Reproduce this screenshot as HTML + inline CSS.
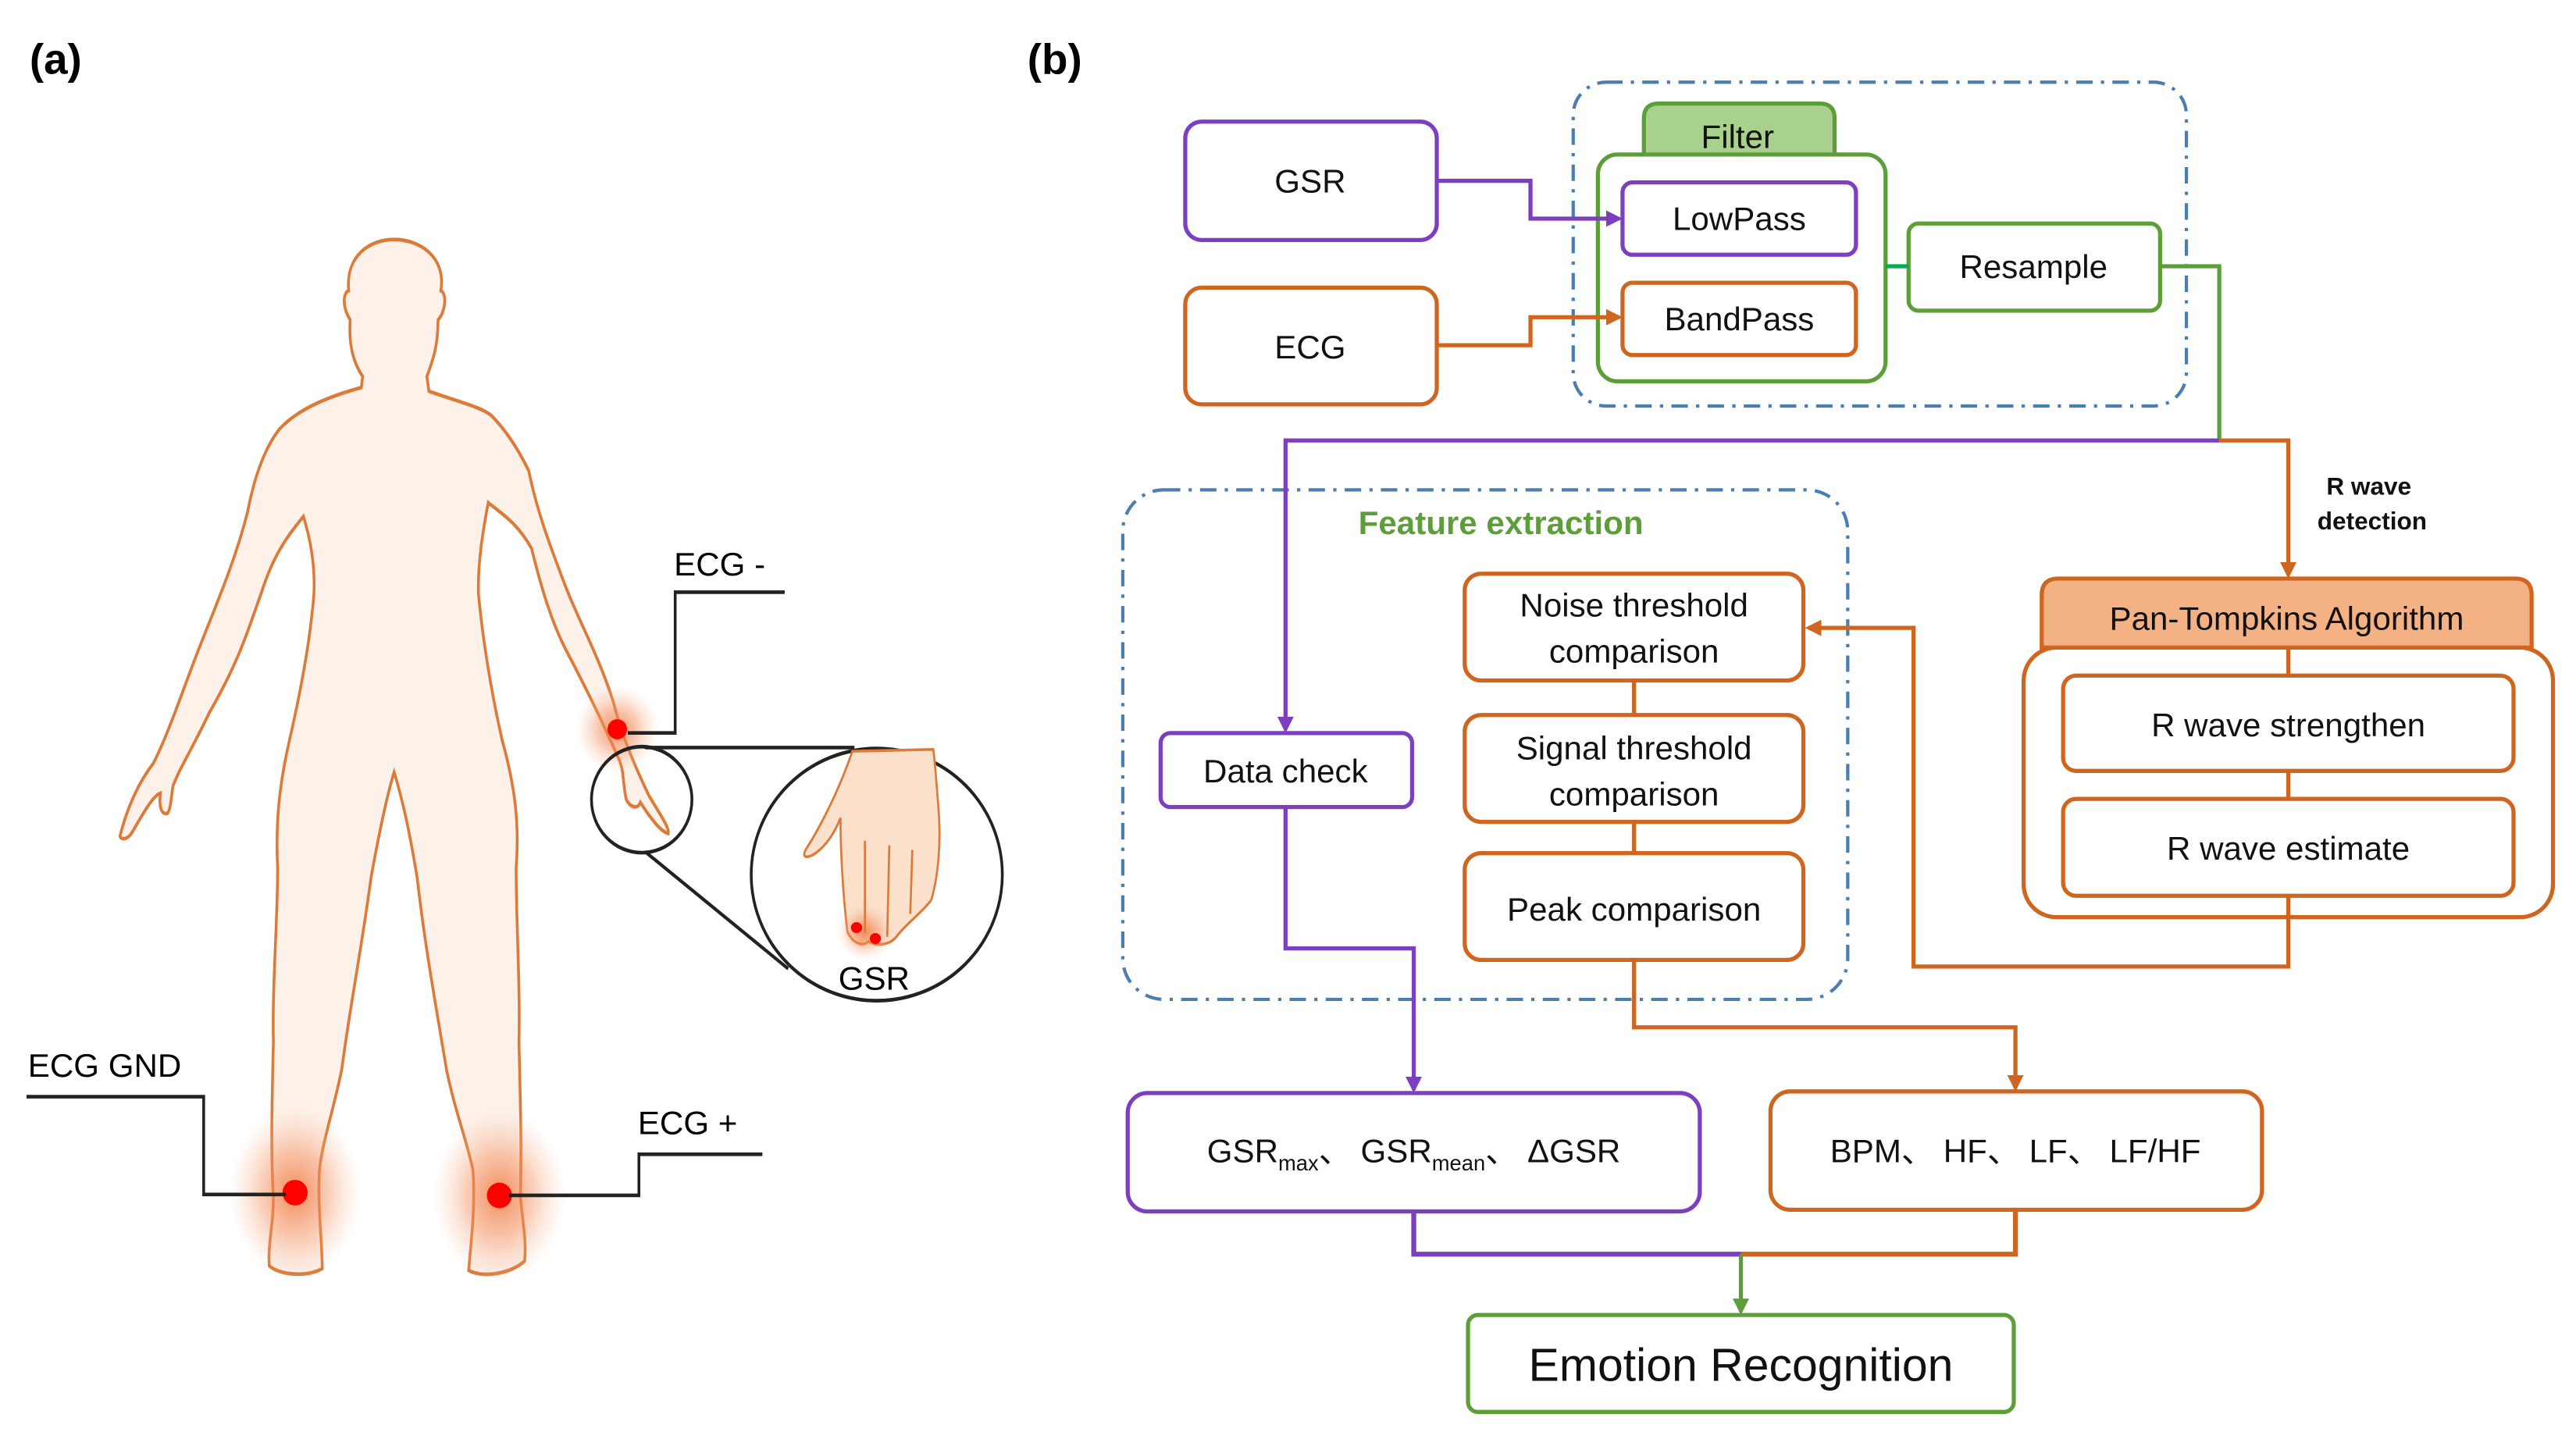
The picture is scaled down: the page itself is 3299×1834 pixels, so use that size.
<!DOCTYPE html>
<html><head><meta charset="utf-8"><style>
html,body{margin:0;padding:0;background:#fff}
svg{display:block}
text{font-family:"Liberation Sans",Arial,sans-serif}
</style></head><body>
<svg width="3299" height="1834" viewBox="0 0 1567 871.2" preserveAspectRatio="none" xmlns="http://www.w3.org/2000/svg">
<defs>
<radialGradient id="glow"><stop offset="0" stop-color="#f07a40" stop-opacity="0.85"/><stop offset="0.5" stop-color="#f49060" stop-opacity="0.45"/><stop offset="1" stop-color="#f8c0a0" stop-opacity="0"/></radialGradient>
<marker id="ap" markerWidth="10" markerHeight="10" refX="8" refY="5" orient="auto" markerUnits="userSpaceOnUse"><path d="M0,0 L10,5 L0,10 z" fill="#7b3fbf"/></marker>
<marker id="ao" markerWidth="10" markerHeight="10" refX="8" refY="5" orient="auto" markerUnits="userSpaceOnUse"><path d="M0,0 L10,5 L0,10 z" fill="#d0651f"/></marker>
<marker id="ag" markerWidth="10" markerHeight="10" refX="8" refY="5" orient="auto" markerUnits="userSpaceOnUse"><path d="M0,0 L10,5 L0,10 z" fill="#5e9e3a"/></marker>
</defs>
<rect width="1567" height="871.2" fill="#fff"/>
<text x="18" y="45" font-size="26" font-weight="bold">(a)</text>
<text x="625" y="45" font-size="26" font-weight="bold">(b)</text>

<!-- body -->
<g transform="scale(0.4243,0.556)">
<path d="M520,412 C505,395 500,375 502,350 C490,335 492,320 500,318 C495,280 530,262 565,262 C600,262 640,280 632,318 C640,320 640,340 628,350 C628,380 620,395 612,412 L615,428 C650,438 690,445 705,455 C730,475 745,495 758,515 C770,560 790,600 810,640 C830,680 860,720 880,770 C890,800 905,830 930,870 C945,890 960,905 958,912 C948,910 935,898 918,878 C915,885 905,885 898,875 C893,860 895,845 888,832 C870,800 845,760 812,712 C790,680 775,640 762,600 C740,570 715,560 700,550 C690,590 685,620 686,650 C692,700 705,760 720,810 C738,860 745,900 740,950 C740,1010 746,1080 744,1140 C746,1200 748,1260 746,1310 C750,1340 755,1360 752,1380 C730,1395 690,1398 672,1390 C675,1360 682,1320 678,1280 C670,1250 652,1215 640,1170 C625,1100 610,1040 598,960 C585,900 575,870 565,845 C555,870 545,905 532,960 C518,1040 502,1100 490,1170 C478,1215 462,1250 458,1280 C455,1320 462,1360 462,1388 C440,1398 400,1395 386,1385 C384,1360 392,1340 392,1310 C388,1260 390,1200 392,1140 C390,1080 398,1010 398,950 C395,900 400,860 415,810 C430,760 445,700 450,650 C452,620 445,590 435,565 C420,580 395,600 375,648 C355,690 345,720 300,780 C275,820 258,840 248,860 C245,875 245,885 240,890 C230,892 228,880 230,868 C220,870 205,890 190,910 C184,918 175,920 172,915 C180,890 195,860 220,835 C240,805 260,760 280,720 C305,670 335,620 355,560 C365,520 380,490 400,470 C430,445 480,432 518,424 Z" fill="#fdf1ea" stroke="#dd7a38" stroke-width="4"/>
<ellipse cx="423" cy="1305" rx="95" ry="95" fill="url(#glow)"/>
<ellipse cx="716" cy="1308" rx="95" ry="95" fill="url(#glow)"/>
<ellipse cx="885" cy="798" rx="60" ry="48" fill="url(#glow)"/>
<ellipse cx="423" cy="1305" rx="18" ry="14" fill="#f00"/>
<ellipse cx="716" cy="1308" rx="18" ry="14" fill="#f00"/>
<ellipse cx="885" cy="798" rx="14" ry="11" fill="#f00"/>
<g fill="none" stroke="#222" stroke-width="4">
<polyline points="900,802 968,802 968,648 1125,648"/>
<polyline points="410,1307 292,1307 292,1200 38,1200"/>
<polyline points="730,1308 916,1308 916,1263 1093,1263"/>
<ellipse cx="920" cy="875" rx="72" ry="58"/>
<ellipse cx="1257" cy="957" rx="180" ry="138"/>
<line x1="925" y1="818" x2="1225" y2="818"/>
<line x1="925" y1="932" x2="1130" y2="1060"/>
</g>
<path d="M1222,822 C1205,860 1180,900 1155,930 C1148,940 1160,940 1175,930 C1190,920 1200,905 1205,895 C1205,940 1210,990 1215,1020 C1225,1035 1240,1035 1245,1030 C1255,1035 1275,1035 1285,1025 C1300,1010 1320,1000 1335,985 C1345,960 1350,920 1345,880 C1342,850 1340,830 1338,820 Z" fill="#fbe0cc" stroke="#dd7a38" stroke-width="3"/>
<ellipse cx="1240" cy="1020" rx="40" ry="30" fill="url(#glow)"/>
<path d="M1240,920 L1240,1020 M1275,925 L1272,1025 M1308,930 L1305,1000" stroke="#dd7a38" stroke-width="3" fill="none"/>
<ellipse cx="1228" cy="1015" rx="8" ry="6" fill="#f00"/>
<ellipse cx="1255" cy="1027" rx="8" ry="6" fill="#f00"/>
</g>
<text x="410" y="350" font-size="20">ECG -</text>
<text x="17" y="655" font-size="20">ECG GND</text>
<text x="388" y="690" font-size="20">ECG +</text>
<text x="510" y="602" font-size="20">GSR</text>

<!-- (b) -->
<g fill="none" stroke="#4a7eb0" stroke-width="2" stroke-dasharray="10,5,2,5">
<rect x="957" y="50" width="373" height="197" rx="20"/>
<rect x="683" y="298" width="441" height="310" rx="25"/>
</g>
<g stroke-width="2.5" fill="#fff">
<rect x="721" y="74" width="153" height="72" rx="10" stroke="#7b3fbf"/>
<rect x="721" y="175" width="153" height="71" rx="10" stroke="#d0651f"/>
<path d="M1000,95 V72 Q1000,63 1009,63 H1107 Q1116,63 1116,72 V95 Z" fill="#a9d18e" stroke="#5e9e3a"/>
<rect x="972" y="94" width="175" height="138" rx="12" stroke="#5e9e3a"/>
<rect x="987" y="111" width="142" height="44" rx="6" stroke="#7b3fbf"/>
<rect x="987" y="172" width="142" height="44" rx="6" stroke="#d0651f"/>
<rect x="1161" y="136" width="153" height="53" rx="6" stroke="#5e9e3a"/>
<rect x="891" y="349" width="206" height="65" rx="10" stroke="#d0651f"/>
<rect x="891" y="435" width="206" height="65" rx="10" stroke="#d0651f"/>
<rect x="891" y="519" width="206" height="65" rx="10" stroke="#d0651f"/>
<rect x="706" y="446" width="153" height="45" rx="6" stroke="#7b3fbf"/>
<rect x="1231" y="394" width="322" height="164" rx="20" stroke="#d0651f"/>
<path d="M1242,394 V362 Q1242,352 1252,352 H1530 Q1540,352 1540,362 V394 Z" fill="#f4b183" stroke="#d0651f"/>
<rect x="1255" y="411" width="274" height="58" rx="8" stroke="#d0651f"/>
<rect x="1255" y="486" width="274" height="59" rx="8" stroke="#d0651f"/>
<rect x="686" y="665" width="348" height="72" rx="12" stroke="#7b3fbf"/>
<rect x="1077" y="664" width="299" height="72" rx="12" stroke="#d0651f"/>
<rect x="893" y="800" width="332" height="59" rx="6" stroke="#5e9e3a"/>
</g>
<g fill="none" stroke-width="2.5">
<polyline points="874,110 931,110 931,133 985,133" stroke="#7b3fbf" marker-end="url(#ap)"/>
<polyline points="874,210 931,210 931,193 985,193" stroke="#d0651f" marker-end="url(#ao)"/>
<line x1="1147" y1="162" x2="1161" y2="162" stroke="#00b050"/>
<polyline points="1314,162 1350,162 1350,268" stroke="#5e9e3a"/>
<polyline points="1350,268 782,268 782,444" stroke="#7b3fbf" marker-end="url(#ap)"/>
<polyline points="1350,268 1392,268 1392,350" stroke="#d0651f" marker-end="url(#ao)"/>
<line x1="994" y1="414" x2="994" y2="435" stroke="#d0651f"/>
<line x1="994" y1="500" x2="994" y2="519" stroke="#d0651f"/>
<polyline points="782,491 782,577 860,577 860,663" stroke="#7b3fbf" marker-end="url(#ap)"/>
<polyline points="994,584 994,625 1226,625 1226,662" stroke="#d0651f" marker-end="url(#ao)"/>
<line x1="1392" y1="394" x2="1392" y2="411" stroke="#d0651f"/>
<line x1="1392" y1="469" x2="1392" y2="486" stroke="#d0651f"/>
<polyline points="1392,545 1392,588 1164,588 1164,382 1100,382" stroke="#d0651f" marker-end="url(#ao)"/>
<polyline points="860,737 860,763 1059,763" stroke="#7b3fbf" stroke-width="3"/>
<polyline points="1226,736 1226,763 1059,763" stroke="#d0651f" stroke-width="3"/>
<line x1="1059" y1="763" x2="1059" y2="798" stroke="#5e9e3a" marker-end="url(#ag)"/>
</g>
<g font-size="20" text-anchor="middle" fill="#111">
<text x="797" y="117">GSR</text>
<text x="797" y="218">ECG</text>
<text x="1057" y="90">Filter</text>
<text x="1058" y="140">LowPass</text>
<text x="1058" y="201">BandPass</text>
<text x="1237" y="169">Resample</text>
<text x="913" y="325" font-weight="bold" fill="#5e9e3a">Feature extraction</text>
<text x="994" y="375">Noise threshold</text>
<text x="994" y="403">comparison</text>
<text x="994" y="462">Signal threshold</text>
<text x="994" y="490">comparison</text>
<text x="994" y="560">Peak comparison</text>
<text x="782" y="476">Data check</text>
<text x="1391" y="383">Pan-Tompkins Algorithm</text>
<text x="1392" y="448">R wave strengthen</text>
<text x="1392" y="523">R wave estimate</text>
<text x="860" y="707">GSR<tspan font-size="13" dy="5">max</tspan><tspan dy="-5">、 GSR</tspan><tspan font-size="13" dy="5">mean</tspan><tspan dy="-5">、 ΔGSR</tspan></text>
<text x="1226" y="707">BPM、 HF、 LF、 LF/HF</text>
<text x="1059" y="840" font-size="28">Emotion Recognition</text>
<text x="1441" y="301" font-size="15" font-weight="bold">R wave</text>
<text x="1443" y="322" font-size="15" font-weight="bold">detection</text>
</g>
</svg>
</body></html>
